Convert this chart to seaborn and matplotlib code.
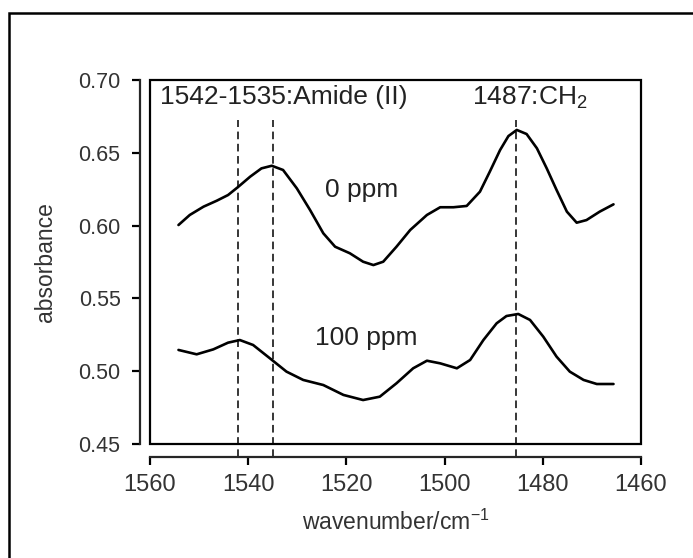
import pandas as pd
import matplotlib.pyplot as plt
import seaborn as sns
from matplotlib.patches import Rectangle

wn_0ppm = [1554.2, 1551.9, 1549.1, 1546.4, 1544.1, 1542.0, 1539.6, 1537.3, 1535.2, 1532.9,
           1530.1, 1527.4, 1524.7, 1522.3, 1519.3, 1516.6, 1514.5, 1512.5, 1509.8, 1507.0,
           1503.6, 1500.9, 1498.2, 1495.5, 1492.8, 1490.8, 1488.7, 1487.0, 1485.3, 1483.3,
           1481.2, 1479.2, 1477.2, 1475.1, 1473.1, 1471.1, 1468.4, 1465.6]
abs_0ppm = [0.6004, 0.6073, 0.613, 0.6171, 0.621, 0.6267, 0.6336, 0.6393, 0.6411, 0.6382,
            0.6256, 0.6107, 0.5947, 0.5855, 0.581, 0.5752, 0.5729, 0.5752, 0.5855, 0.597,
            0.6073, 0.6126, 0.6126, 0.6135, 0.6233, 0.637, 0.6519, 0.6615, 0.6657, 0.6629,
            0.6531, 0.6393, 0.6245, 0.6096, 0.602, 0.6038, 0.6096, 0.6146]

wn_100ppm = [1554.2, 1550.5, 1547.1, 1544.1, 1541.7, 1539.0, 1535.6, 1532.2, 1528.8, 1524.7,
             1520.6, 1516.6, 1513.2, 1509.8, 1506.4, 1503.6, 1500.9, 1497.5, 1494.8, 1492.1,
             1489.4, 1487.4, 1485.0, 1482.6, 1479.9, 1477.2, 1474.5, 1471.7, 1469.0, 1465.6]
abs_100ppm = [0.5146, 0.5116, 0.515, 0.5196, 0.5214, 0.518, 0.5089, 0.4997, 0.494, 0.4905,
              0.4837, 0.4802, 0.4825, 0.4917, 0.502, 0.5072, 0.5054, 0.502, 0.5077, 0.5214,
              0.5329, 0.5379, 0.5393, 0.5352, 0.5237, 0.510, 0.4997, 0.494, 0.4912, 0.4912]

linhas_ref = [1542, 1535, 1485.5]

sns.set_style("ticks")
plt.rcParams['font.family'] = ['Liberation Sans', 'DejaVu Sans']
plt.rcParams['mathtext.fontset'] = 'custom'
plt.rcParams['mathtext.rm'] = 'Liberation Sans'

fig = plt.figure(figsize=(6.93, 5.58), dpi=100)
ax = fig.add_axes([150/693, 1 - 444/558, 491/693, 364/558])

df0 = pd.DataFrame({"wn": wn_0ppm, "abs": abs_0ppm})
df100 = pd.DataFrame({"wn": wn_100ppm, "abs": abs_100ppm})
sns.lineplot(data=df0, x="wn", y="abs", color="black", lw=1.9, sort=False, ax=ax,
             solid_joinstyle="round")
sns.lineplot(data=df100, x="wn", y="abs", color="black", lw=1.9, sort=False, ax=ax,
             solid_joinstyle="round")

for x in linhas_ref:
    ax.axvline(x, ymin=-0.036, ymax=0.89, clip_on=False, color="black",
               lw=1.1, dashes=(5, 3))

ax.set_xlim(1560, 1460)
ax.set_ylim(0.45, 0.70)
ax.set_xticks([1560, 1540, 1520, 1500, 1480, 1460])
ax.set_yticks([0.45, 0.50, 0.55, 0.60, 0.65, 0.70])
ax.set_yticklabels(["0.45", "0.50", "0.55", "0.60", "0.65", "0.70"])

# moldura + eixos deslocados
for s in ["top", "right"]:
    ax.spines[s].set_visible(False)
ax.spines["left"].set_position(("outward", 7.2))
ax.spines["bottom"].set_position(("outward", 9.4))
for s in ["left", "bottom"]:
    ax.spines[s].set_linewidth(1.6)
ax.add_patch(Rectangle((0, 0), 1, 1, transform=ax.transAxes, fill=False,
                       lw=1.6, ec="black", clip_on=False))
ax.tick_params(axis="both", length=6, width=1.6, color="black", labelcolor="#333333")
ax.tick_params(axis="y", pad=8, labelsize=15.5)
ax.tick_params(axis="x", pad=6, labelsize=17)

ax.set_xlabel("wavenumber/cm$^{\\mathregular{-1}}$", fontsize=16.5, color="#333333")
ax.set_ylabel("absorbance", fontsize=16.5, color="#333333")
ax.xaxis.set_label_coords(0.5, -0.18)
ax.yaxis.set_label_coords(-0.19, 0.5)

ax.text(1558, 0.688, "1542-1535:Amide (II)", fontsize=19, va="center", ha="left", color="#222222")
ax.text(1494.4, 0.688, "1487:CH$_{\\mathregular{2}}$", fontsize=19, va="center", ha="left", color="#222222")
ax.text(1516.8, 0.6245, "0 ppm", fontsize=19, va="center", ha="center", color="#222222")
ax.text(1516, 0.5228, "100 ppm", fontsize=19, va="center", ha="center", color="#222222")

# borda externa da figura
fig.patches.append(Rectangle((9/693, -0.1), 1.2, 1 - 13/558 + 0.1, transform=fig.transFigure,
                             fill=False, lw=1.8, ec="black"))

plt.savefig("out.png", dpi=100)
plt.close()
